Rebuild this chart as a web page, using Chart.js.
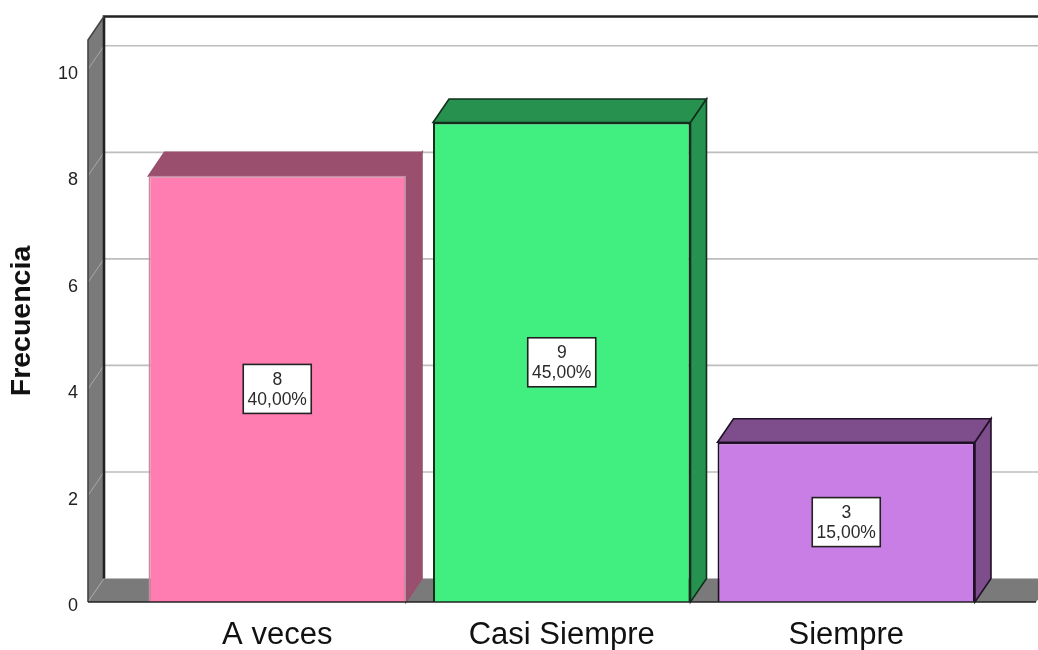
<!DOCTYPE html>
<html><head><meta charset="utf-8">
<style>html,body{margin:0;padding:0;background:#fff}#w{width:1038px;height:650px}</style>
<script src="https://cdn.jsdelivr.net/npm/chart.js@4/dist/chart.umd.min.js"></script>
</head><body><div id="w"><canvas id="c"></canvas></div>
<script>
const categories = ["A veces", "Casi Siempre", "Siempre"];
const frequencies = [8, 9, 3];
const percentLabels = ["40,00%", "45,00%", "15,00%"];
const yTicks = [0, 2, 4, 6, 8, 10];
const axisTitle = "Frecuencia";

const frontColors = ["#FF7DB0", "#41EE80", "#C87EE5"];
const sideColors = ["#9A4F6E", "#27914F", "#7E4E8C"];
const frontEdges = ["#C58CA4", "#10301C", "#201028"];
const faceEdges = ["#9A4F6E", "#10301C", "#201028"];
const DX = 16, DY = -23.5;
const FONT = '"Liberation Sans", Arial, sans-serif';

function poly(ctx, pts, fill, stroke, lw) {
  ctx.beginPath();
  pts.forEach((p, i) => i ? ctx.lineTo(p[0], p[1]) : ctx.moveTo(p[0], p[1]));
  ctx.closePath();
  if (fill) { ctx.fillStyle = fill; ctx.fill(); }
  if (stroke) { ctx.strokeStyle = stroke; ctx.lineWidth = lw || 1; ctx.stroke(); }
}

const box3d = {
  id: "box3d",
  beforeDatasetsDraw(chart) {
    const { ctx, scales: { y } } = chart;
    const L = 88, R = 1038, T = chart.chartArea.top, B = chart.chartArea.bottom;
    ctx.save();
    poly(ctx, [[L, T], [L + DX, T + DY], [L + DX, B + DY], [L, B]], "#7A7A7A");
    poly(ctx, [[L, B], [L + DX, B + DY], [R + DX, B + DY], [R - 2, B]], "#7A7A7A");
    yTicks.forEach(v => {
      const py = y.getPixelForValue(v);
      if (v > 0) {
        ctx.strokeStyle = "#BDBDBD"; ctx.lineWidth = 1.6;
        ctx.beginPath(); ctx.moveTo(L + DX, py + DY); ctx.lineTo(R, py + DY); ctx.stroke();
      }
      ctx.strokeStyle = "#A8A8A8"; ctx.lineWidth = 1;
      ctx.beginPath(); ctx.moveTo(L, py); ctx.lineTo(L + DX, py + DY); ctx.stroke();
    });
    ctx.strokeStyle = "#222"; ctx.lineWidth = 2.6;
    ctx.beginPath(); ctx.moveTo(L + DX, B + DY); ctx.lineTo(L + DX, T + DY); ctx.lineTo(R, T + DY); ctx.stroke();
    ctx.strokeStyle = "#444"; ctx.lineWidth = 1.6;
    ctx.beginPath(); ctx.moveTo(L, B); ctx.lineTo(L, T); ctx.lineTo(L + DX, T + DY); ctx.stroke();
    chart.getDatasetMeta(0).data.forEach((bar, i) => {
      const l = bar.x - bar.width / 2, r = bar.x + bar.width / 2, t = bar.y, b = bar.base;
      const e = faceEdges[i], s = sideColors[i];
      poly(ctx, [[l, t], [l + DX, t + DY], [r + DX, t + DY], [r, t]], s, e, 1.6);
      poly(ctx, [[r, t], [r + DX, t + DY], [r + DX, b + DY], [r, b]], s, e, 1.6);
    });
    ctx.restore();
  },
  afterDatasetsDraw(chart) {
    const { ctx } = chart;
    const B = chart.chartArea.bottom;
    ctx.save();
    ctx.strokeStyle = "#222"; ctx.lineWidth = 1.6;
    ctx.beginPath(); ctx.moveTo(88, B); ctx.lineTo(1036, B); ctx.stroke();
    chart.getDatasetMeta(0).data.forEach((bar, i) => {
      const cx = bar.x, cy = (bar.y + bar.base) / 2, w = 68, h = 49;
      ctx.fillStyle = "#fff";
      ctx.fillRect(cx - w / 2, cy - h / 2, w, h);
      ctx.strokeStyle = "#222"; ctx.lineWidth = 1.6;
      ctx.strokeRect(cx - w / 2, cy - h / 2, w, h);
      ctx.fillStyle = "#2a2a2a";
      ctx.font = "17.5px " + FONT;
      ctx.textAlign = "center"; ctx.textBaseline = "middle";
      ctx.fillText(String(frequencies[i]), cx, cy - 9);
      ctx.fillText(percentLabels[i], cx, cy + 11);
    });
    ctx.restore();
  }
};

new Chart(document.getElementById("c"), {
  type: "bar",
  data: {
    labels: categories,
    datasets: [{
      data: frequencies,
      backgroundColor: frontColors,
      borderColor: frontEdges,
      borderWidth: 2,
      categoryPercentage: 1,
      barPercentage: 0.905
    }]
  },
  plugins: [box3d],
  options: {
    responsive: true,
    maintainAspectRatio: false,
    animation: false,
    layout: { padding: { top: 40, right: 49.5, left: 0, bottom: 0 }, autoPadding: false },
    plugins: { legend: { display: false }, title: { display: false }, tooltip: { enabled: false } },
    scales: {
      x: {
        grid: { display: false, drawTicks: false },
        border: { display: false },
        ticks: { color: "#111", font: { family: FONT, size: 31 }, padding: 15, maxRotation: 0, autoSkip: false },
        afterFit(s) { s.height = 48; s.paddingLeft = s.paddingRight = s.paddingTop = s.paddingBottom = 0; }
      },
      y: {
        min: 0, max: 10.55,
        grid: { display: false, drawTicks: false },
        border: { display: false },
        afterBuildTicks(s) { s.ticks = yTicks.map(v => ({ value: v })); },
        ticks: { color: "#222", font: { family: FONT, size: 18 }, padding: 57, labelOffset: 4.5 },
        title: { display: true, text: axisTitle, color: "#111", font: { family: FONT, size: 28.5, weight: "bold" }, padding: { top: 5, bottom: 0 } },
        afterFit(s) { s.width = 135; s.paddingLeft = s.paddingRight = s.paddingTop = s.paddingBottom = 0; }
      }
    }
  }
});
</script></body></html>
